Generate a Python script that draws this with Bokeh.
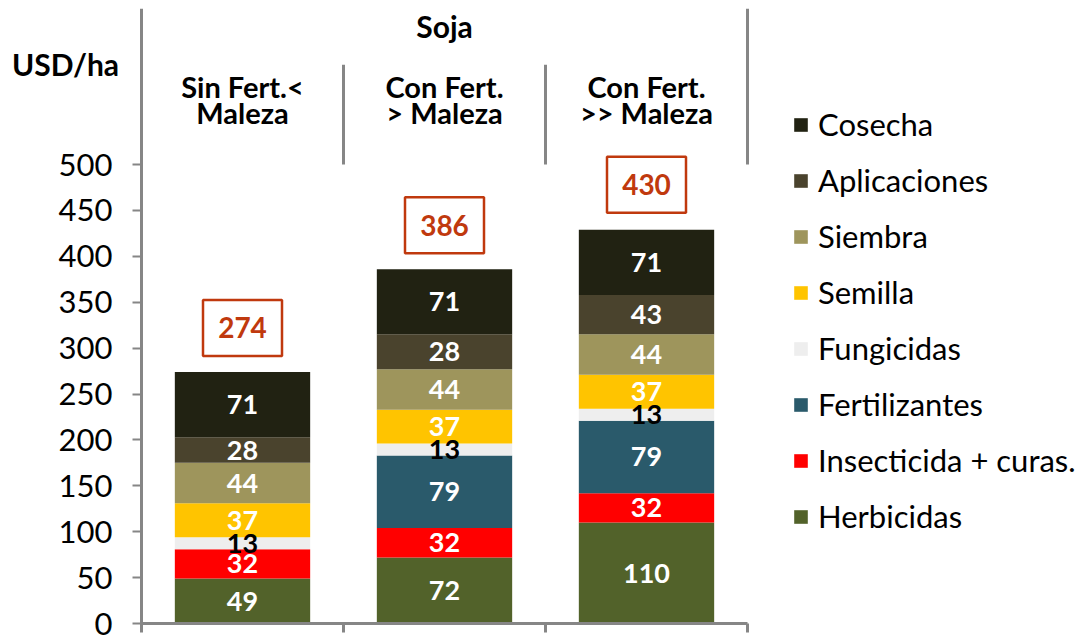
import numpy as np
from bokeh.plotting import figure
from bokeh.models import ColumnDataSource, Range1d, FixedTicker, Legend, LegendItem
from bokeh.core.properties import value
from bokeh.embed import file_html
from bokeh.resources import INLINE

# ---------------- data ----------------
categories = ["Sin Fert.< Maleza", "Con Fert. > Maleza", "Con Fert. >> Maleza"]
header_line1 = ["Sin Fert.<", "Con Fert.", "Con Fert."]
header_line2 = ["Maleza", "> Maleza", ">> Maleza"]
group_title = "Soja"
y_title = "USD/ha"

series = ["Herbicidas", "Insecticida + curas.", "Fertilizantes", "Fungicidas",
          "Semilla", "Siembra", "Aplicaciones", "Cosecha"]
herbicidas = [49, 72, 110]
insecticida = [32, 32, 32]
fertilizantes = [0, 79, 79]
fungicidas = [13, 13, 13]
semilla = [37, 37, 37]
siembra = [44, 44, 44]
aplicaciones = [28, 38, 43]          # drawn height (bar 2 reaches 386)
cosecha = [71, 71, 71]
# printed segment labels (as in the original chart)
herbicidas_lbl = ["49", "72", "110"]
insecticida_lbl = ["32", "32", "32"]
fertilizantes_lbl = ["", "79", "79"]
fungicidas_lbl = ["13", "13", "13"]
semilla_lbl = ["37", "37", "37"]
siembra_lbl = ["44", "44", "44"]
aplicaciones_lbl = ["28", "28", "43"]
cosecha_lbl = ["71", "71", "71"]
totals = [274, 386, 430]
y_ticks = [0, 50, 100, 150, 200, 250, 300, 350, 400, 450, 500]

colors = ["#52622A", "#FF0000", "#2A5A6B", "#EEEEEE",
          "#FFC400", "#9E955C", "#4A432D", "#212212"]
label_colors = ["white", "white", "white", "black",
                "white", "white", "white", "white"]

values = [herbicidas, insecticida, fertilizantes, fungicidas,
          semilla, siembra, aplicaciones, cosecha]
labels = [herbicidas_lbl, insecticida_lbl, fertilizantes_lbl, fungicidas_lbl,
          semilla_lbl, siembra_lbl, aplicaciones_lbl, cosecha_lbl]

FONT = "Lato"
GRAY = "#868686"
TOTAL_COLOR = "#C0390E"

# ---------------- figure ----------------
xpos = np.arange(len(categories)) + 0.5
ncat = len(categories)
frame_w = 1080
frame_h = 629
cat_px = 202          # pixels per category
left_px = 141         # where the value axis sits
px_per_unit = 0.9179
y_bottom = -14 / px_per_unit
y_top = y_bottom + frame_h / px_per_unit
p = figure(frame_width=frame_w, frame_height=frame_h,
           x_range=Range1d(-left_px / cat_px, (frame_w - left_px) / cat_px),
           y_range=Range1d(y_bottom, y_top),
           output_backend="svg", toolbar_location=None,
           min_border_left=0, min_border_right=0, min_border_top=8,
           min_border_bottom=0)
p.outline_line_color = None
p.xgrid.visible = False
p.ygrid.visible = False
p.background_fill_color = "white"

data = {"x": xpos}
for s, v in zip(series, values):
    data[s] = v
src = ColumnDataSource(data)
rends = p.vbar_stack(series, x="x", width=0.67, source=src, color=colors, line_color=None)

# segment labels
lx, ly, lt, lc = [], [], [], []
cum = np.zeros(ncat)
for v, lab, c in zip(values, labels, label_colors):
    v = np.array(v, dtype=float)
    for j in range(ncat):
        if v[j] > 0 and lab[j]:
            lx.append(xpos[j]); ly.append(cum[j] + v[j] / 2); lt.append(lab[j]); lc.append(c)
    cum += v
p.text(x=lx, y=ly, text=lt, text_color=lc, text_font=value(FONT), text_font_style="bold",
       text_font_size="27px", text_align="center", text_baseline="middle")

# totals boxes
ty = np.array(totals) + 48
p.rect(x=xpos, y=ty, width=79, height=56, width_units="screen", height_units="screen",
       fill_color=None, line_color=TOTAL_COLOR, line_width=2.5)
p.text(x=xpos, y=ty, text=[str(t) for t in totals], text_color=TOTAL_COLOR,
       text_font=value(FONT), text_font_style="bold", text_font_size="28px",
       text_align="center", text_baseline="middle")

# header
p.text(x=[ncat / 2], y=[651], text=[group_title], text_font=value(FONT), text_font_style="bold",
       text_font_size="30px", text_align="center", text_baseline="middle", text_color="black")
p.text(x=xpos, y=[584.5] * ncat, text=header_line1, text_font=value(FONT), text_font_style="bold",
       text_font_size="29px", text_align="center", text_baseline="middle", text_color="black")
p.text(x=xpos, y=[557] * ncat, text=header_line2, text_font=value(FONT), text_font_style="bold",
       text_font_size="29px", text_align="center", text_baseline="middle", text_color="black")
seg_x = list(range(1, ncat + 1))
seg_top = [608.6] * (ncat - 1) + [y_top]
p.segment(x0=seg_x, y0=[500] * ncat, x1=seg_x, y1=seg_top, line_color=GRAY, line_width=3)

# value-axis title (top left)
p.text(x=[-76 / cat_px], y=[610], text=[y_title], text_font=value(FONT), text_font_style="bold",
       text_font_size="30px", text_align="center", text_baseline="middle", text_color="black")

# axes
ya = p.yaxis[0]
ya.fixed_location = 0
ya.bounds = (y_bottom + 7 / px_per_unit, y_top)
ya.ticker = FixedTicker(ticks=y_ticks)
ya.axis_line_color = GRAY
ya.axis_line_width = 3
ya.major_tick_line_color = GRAY
ya.major_tick_line_width = 2
ya.major_tick_in = 0
ya.major_tick_out = 9
ya.minor_tick_line_color = None
ya.major_label_standoff = 20
ya.major_label_text_font = FONT
ya.major_label_text_font_size = "31px"
ya.major_label_text_color = "black"

xa = p.xaxis[0]
xa.fixed_location = 0
xa.bounds = (0, ncat)
xa.ticker = FixedTicker(ticks=list(range(ncat + 1)))
xa.major_label_overrides = {i: "" for i in range(ncat + 1)}
xa.major_label_text_font_size = "1px"
xa.axis_line_color = GRAY
xa.axis_line_width = 3
xa.major_tick_line_color = GRAY
xa.major_tick_line_width = 3
xa.major_tick_in = 0
xa.major_tick_out = 9
xa.minor_tick_line_color = None

# legend
items = [LegendItem(label=s, renderers=[r]) for s, r in zip(series, rends)][::-1]
leg = Legend(items=items, location=(792, 88 + 14), orientation="vertical",
             label_text_font=FONT, label_text_font_size="31px", label_text_color="black",
             glyph_width=17, glyph_height=17, label_height=36, label_standoff=9,
             spacing=18, padding=0, margin=0,
             background_fill_alpha=0, border_line_alpha=0)
p.add_layout(leg)

open("out.html", "w").write(file_html(p, INLINE))
